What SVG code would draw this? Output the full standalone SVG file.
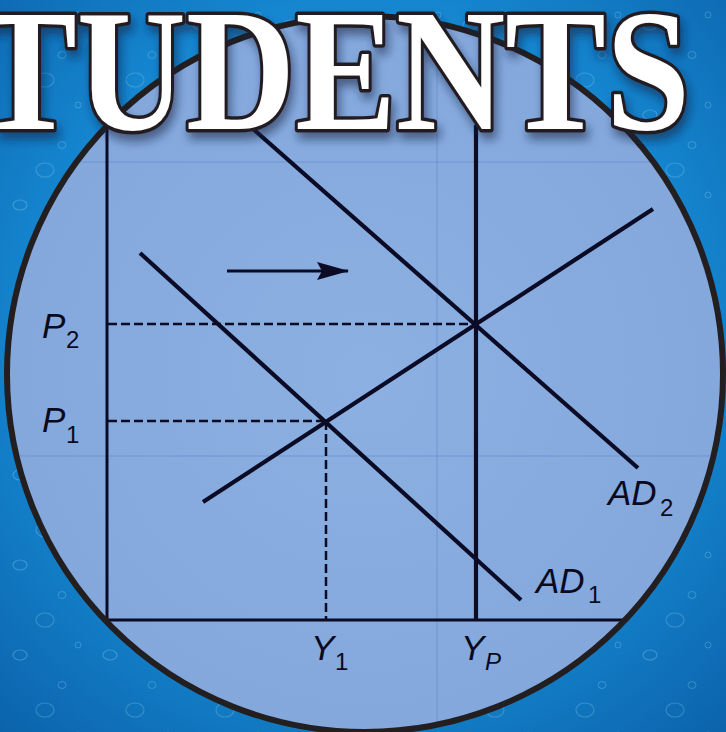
<svg xmlns="http://www.w3.org/2000/svg" width="726" height="732" viewBox="0 0 726 732">
  <defs>
    <radialGradient id="bg" cx="0.5" cy="0.45" r="0.75">
      <stop offset="0" stop-color="#1f9ae0"/>
      <stop offset="0.6" stop-color="#1586d0"/>
      <stop offset="1" stop-color="#0b62aa"/>
    </radialGradient>
    <radialGradient id="disc" cx="0.5" cy="0.5" r="0.5">
      <stop offset="0" stop-color="#8db0e2"/>
      <stop offset="1" stop-color="#84a8dc"/>
    </radialGradient>
    <clipPath id="inDisc"><circle cx="365" cy="374" r="358"/></clipPath>
    <filter id="shadow" x="-10%" y="-20%" width="120%" height="160%">
      <feDropShadow dx="3" dy="7" stdDeviation="5" flood-color="#0a1a40" flood-opacity="0.55"/>
    </filter>
    <marker id="head" viewBox="0 0 32 18" refX="31" refY="9" markerWidth="32" markerHeight="18" markerUnits="userSpaceOnUse" orient="auto">
      <path d="M32,9 L0,0 L5,9 L0,18 Z" fill="#0b0b26"/>
    </marker>
    <pattern id="drops" width="90" height="90" patternUnits="userSpaceOnUse">
      <ellipse cx="20" cy="25" rx="7" ry="5" fill="none" stroke="#9ed6f5" stroke-opacity="0.3" stroke-width="1.2"/>
      <ellipse cx="62" cy="55" rx="4" ry="3.5" fill="none" stroke="#9ed6f5" stroke-opacity="0.28" stroke-width="1"/>
      <ellipse cx="45" cy="80" rx="9" ry="7" fill="none" stroke="#9ed6f5" stroke-opacity="0.25" stroke-width="1.2"/>
      <ellipse cx="78" cy="15" rx="3" ry="3" fill="none" stroke="#9ed6f5" stroke-opacity="0.28" stroke-width="1"/>
    </pattern>
  </defs>
  <style>
    .ax { stroke: #0b0b26; stroke-width: 3; fill: none; }
    .curve { stroke: #0b0b26; stroke-width: 4.2; fill: none; stroke-linecap: butt; }
    .dash { stroke: #0b0b26; stroke-width: 2.5; fill: none; stroke-dasharray: 9 4; }
    .seam { stroke: #5d83c4; stroke-width: 1; opacity: 0.55; fill: none; }
    .lab { font-family: "Liberation Sans", Arial, sans-serif; font-style: italic; font-size: 35px; fill: #0a0a1e; }
    .sub { font-family: "Liberation Sans", Arial, sans-serif; font-size: 24px; fill: #0a0a1e; }
    .subi { font-family: "Liberation Sans", Arial, sans-serif; font-style: italic; font-size: 24px; fill: #0a0a1e; }
    .title { font-family: "Liberation Serif", "Times New Roman", serif; font-weight: bold; font-size: 174px; fill: #ffffff; stroke: #231f20; stroke-width: 7; stroke-linejoin: round; paint-order: stroke; }
  </style>

  <g id="background">
    <rect x="0" y="0" width="726" height="732" fill="url(#bg)"/>
    <rect x="0" y="0" width="726" height="732" fill="url(#drops)"/>
  </g>

  <g id="disc-group">
    <circle cx="365" cy="374" r="358" fill="url(#disc)"/>
    <g clip-path="url(#inDisc)">
      <line class="seam" x1="0" y1="162" x2="726" y2="162"/>
      <line class="seam" x1="0" y1="456" x2="726" y2="456"/>
      <line class="seam" x1="437" y1="0" x2="437" y2="732"/>
    </g>
  </g>

  <g id="connectors">
    <g id="axes">
      <line class="ax" x1="107" y1="128" x2="107" y2="621"/>
      <line class="ax" x1="106" y1="620" x2="628" y2="620"/>
    </g>
    <g id="guides">
      <line class="dash" x1="108" y1="324" x2="476" y2="324"/>
      <line class="dash" x1="108" y1="421" x2="326" y2="421"/>
      <line class="dash" x1="326" y1="421" x2="326" y2="619"/>
    </g>
    <g id="curves">
      <line id="LRAS" class="curve" x1="476" y1="125" x2="476" y2="620"/>
      <line id="AD2" class="curve" x1="252" y1="128" x2="638" y2="468"/>
      <line id="AD1" class="curve" x1="140" y1="253" x2="521" y2="600"/>
      <line id="SRAS" class="curve" x1="203" y1="502" x2="653" y2="209"/>
    </g>
    <line id="shift-arrow" x1="227" y1="271" x2="348" y2="271" stroke="#0b0b26" stroke-width="3.2" marker-end="url(#head)"/>
  </g>

  <g id="disc-outline">
    <circle cx="365" cy="374" r="358" fill="none" stroke="#231f20" stroke-width="6"/>
  </g>

  <g id="labels">
    <g id="label-P2"><text class="lab" x="42" y="338">P</text><text class="sub" x="66" y="348">2</text></g>
    <g id="label-P1"><text class="lab" x="42" y="432">P</text><text class="sub" x="66" y="443">1</text></g>
    <g id="label-Y1"><text class="lab" x="311" y="660">Y</text><text class="sub" x="335" y="670">1</text></g>
    <g id="label-YP"><text class="lab" x="461" y="660">Y</text><text class="subi" x="485" y="670">P</text></g>
    <g id="label-AD2"><text class="lab" x="608" y="505">AD</text><text class="sub" x="660" y="516">2</text></g>
    <g id="label-AD1"><text class="lab" x="536" y="593">AD</text><text class="sub" x="588" y="603">1</text></g>
  </g>

  <g id="title" filter="url(#shadow)">
    <text class="title" x="-24" y="129" textLength="714" lengthAdjust="spacingAndGlyphs">TUDENTS</text>
  </g>
</svg>
